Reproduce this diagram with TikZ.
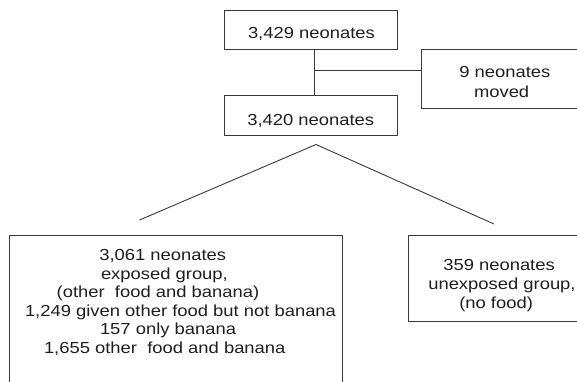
\documentclass[tikz,border=0pt]{standalone}
\usepackage{fontspec}
\setmainfont{Liberation Sans}[FakeStretch=1.15]
\definecolor{boxgray}{HTML}{3A3A3A}
\definecolor{textgray}{HTML}{1E1E1E}
\tikzset{
  box/.style={draw=boxgray, line width=0.9pt, inner sep=0pt, outer sep=0pt, anchor=north west},
  txt/.style={anchor=base west, inner sep=0pt, outer sep=0pt, font=\fontsize{16}{19}\selectfont, text=textgray},
  conn/.style={draw=boxgray, line width=0.9pt}
}
\begin{document}
\begin{tikzpicture}[x=1pt,y=-1pt]
\useasboundingbox (0,0) rectangle (577,381);
\clip (0,0) rectangle (577,381);
% boxes
\node[box, minimum width=173pt, minimum height=39.3pt] (top) at (224,10) {};
\node[box, minimum width=173pt, minimum height=39.3pt] (mid) at (224,95.7) {};
\node[box, minimum width=175pt, minimum height=59pt] (moved) at (421.7,49.3) {};
\node[box, minimum width=333pt, minimum height=170pt] (exposed) at (9,235) {};
\node[box, minimum width=185pt, minimum height=86.7pt] (unexposed) at (408,235) {};
% texts
\node[txt] (t1) at (248,38) {3,429 neonates};
\node[txt] (t2) at (247.3,125) {3,420 neonates};
\node[txt] (m1) at (459.3,77.5) {9 neonates};
\node[txt] (m2) at (474,97) {moved};
\node[txt] (e1) at (99.3,260.7) {3,061 neonates};
\node[txt] (e2) at (101,279.2) {exposed group,};
\node[txt] (e3) at (56.7,297.7) {(other\ \ food and banana)};
\node[txt] (e4) at (25,316.2) {1,249 given other food but not banana};
\node[txt] (e5) at (100,334.7) {157 only banana};
\node[txt] (e6) at (44,353.2) {1,655 other\ \ food and banana};
\node[txt] (u1) at (443.3,270) {359 neonates};
\node[txt] (u2) at (428.3,289.5) {unexposed group,};
\node[txt] (u3) at (459.3,308.5) {(no food)};
% connectors
\coordinate (vx) at (314.3,0);
\draw[conn] (top.south -| vx) -- (mid.north -| vx);
\coordinate (hj) at (314.3,70);
\draw[conn] (hj) -- (hj -| moved.west);
\coordinate (apex) at (316,144.5);
\coordinate (lend) at (139.5,220);
\coordinate (rend) at (494,224);
\draw[conn] (lend) -- (apex) -- (rend);
\end{tikzpicture}
\end{document}
